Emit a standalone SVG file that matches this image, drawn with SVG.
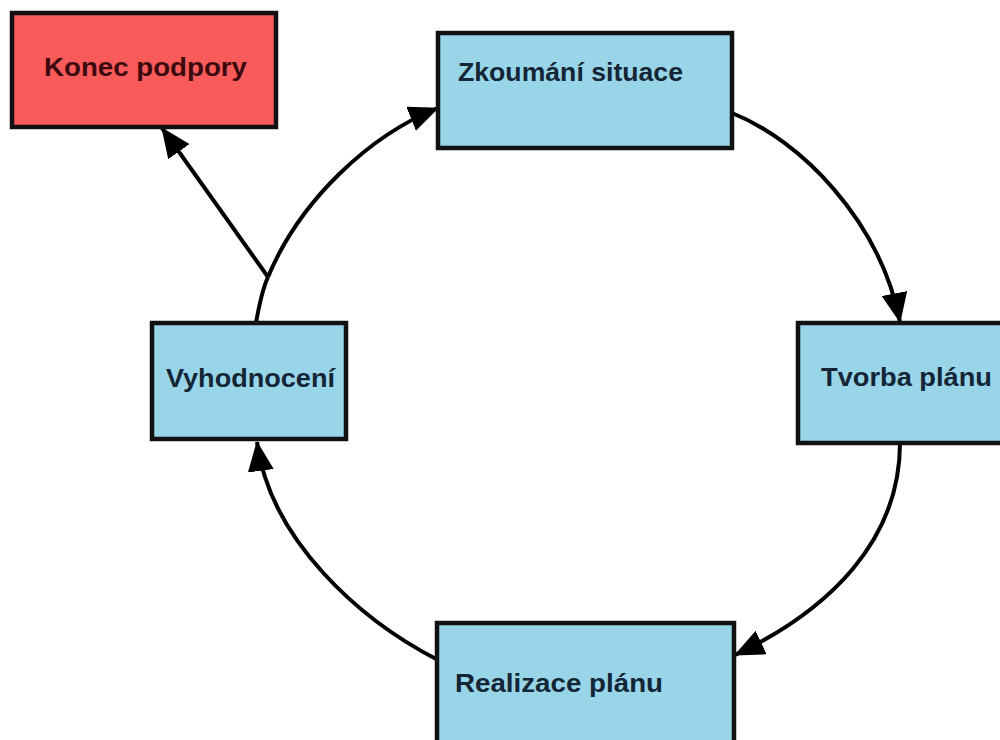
<svg xmlns="http://www.w3.org/2000/svg" width="1000" height="740" viewBox="0 0 1000 740">
<style>
.box{stroke:#111;stroke-width:4.5}
.blue{fill:#98d5e8}
.red{fill:#f95b5b}
.lbl{font-family:"Liberation Sans",Arial,sans-serif;font-weight:bold;font-size:26px}
.lb{fill:#142636}
.lr{fill:#3c0a0e}
.con{fill:none;stroke:#000;stroke-width:4}
</style>
<defs>
<marker id="ah" viewBox="0 0 30 26" refX="29" refY="13" markerWidth="30" markerHeight="26" markerUnits="userSpaceOnUse" orient="auto">
<path d="M0,0 L30,13 L0,26 Z" fill="#000"/>
</marker>
</defs>
<rect width="1000" height="740" fill="#fff"/>
<g id="connectors">
<path class="con" d="M256,323 C260,300 263,288 268,277"/>
<path class="con" d="M268,277 C300,200 370,135 438,108" marker-end="url(#ah)"/>
<path class="con" d="M268,277 L162,128" marker-end="url(#ah)"/>
<path class="con" d="M732,113 C800,140 880,220 900,322" marker-end="url(#ah)"/>
<path class="con" d="M900,443 C900,540 830,610 735,655" marker-end="url(#ah)"/>
<path class="con" d="M438,660 C360,620 270,540 257,442" marker-end="url(#ah)"/>
</g>
<g id="konec">
<rect class="box red" x="12" y="13" width="264" height="114"/>
<text class="lbl lr" x="44" y="76" textLength="203" lengthAdjust="spacingAndGlyphs">Konec podpory</text>
</g>
<g id="zkoumani">
<rect class="box blue" x="438" y="33" width="294" height="115"/>
<text class="lbl lb" x="458" y="81" textLength="225" lengthAdjust="spacingAndGlyphs">Zkoumání situace</text>
</g>
<g id="tvorba">
<rect class="box blue" x="798" y="323" width="210" height="120"/>
<text class="lbl lb" x="821" y="386" textLength="171" lengthAdjust="spacingAndGlyphs">Tvorba plánu</text>
</g>
<g id="vyhodnoceni">
<rect class="box blue" x="152" y="323" width="194" height="116"/>
<text class="lbl lb" x="166" y="387" textLength="169" lengthAdjust="spacingAndGlyphs">Vyhodnocení</text>
</g>
<g id="realizace">
<rect class="box blue" x="437" y="623" width="297" height="125"/>
<text class="lbl lb" x="455" y="692" textLength="208" lengthAdjust="spacingAndGlyphs">Realizace plánu</text>
</g>
</svg>
